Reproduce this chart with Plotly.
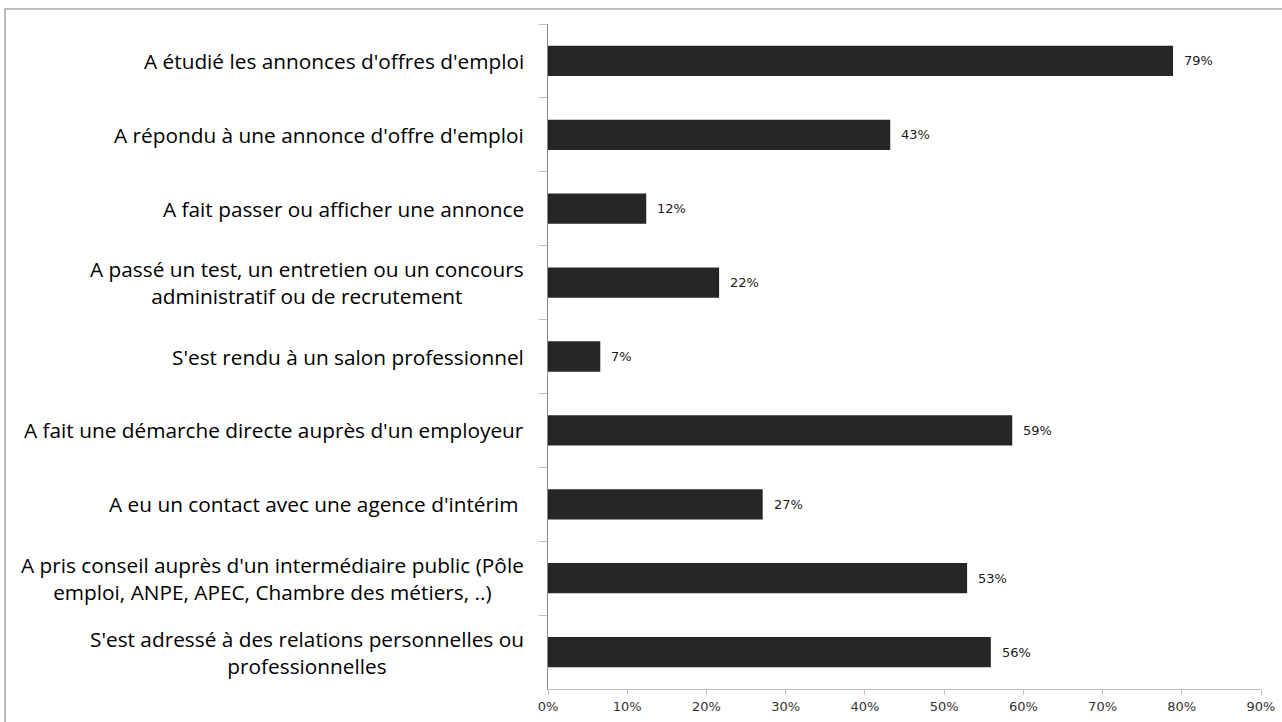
import plotly.graph_objects as go

categories = [
    "A étudié les annonces d'offres d'emploi",
    "A répondu à une annonce d'offre d'emploi",
    "A fait passer ou afficher une annonce",
    "A passé un test, un entretien ou un concours<br>administratif ou de recrutement",
    "S'est rendu à un salon professionnel",
    "A fait une démarche directe auprès d'un employeur",
    "A eu un contact avec une agence d'intérim ",
    "A pris conseil auprès d'un intermédiaire public (Pôle<br>emploi, ANPE, APEC, Chambre des métiers, ..)",
    "S'est adressé à des relations personnelles ou<br>professionnelles",
]
values = [78.9, 43.2, 12.4, 21.6, 6.6, 58.6, 27.1, 52.9, 55.9]
value_labels = ["79%", "43%", "12%", "22%", "7%", "59%", "27%", "53%", "56%"]
x_ticks = [0, 10, 20, 30, 40, 50, 60, 70, 80, 90]
x_tick_labels = ["0%", "10%", "20%", "30%", "40%", "50%", "60%", "70%", "80%", "90%"]

W, H = 1282, 722
ml, mr, mt, mb = 548, 21, 24, 33

fig = go.Figure()
fig.add_trace(go.Bar(
    y=categories,
    x=values,
    orientation="h",
    marker=dict(color="#262626", line=dict(width=0)),
    width=0.41,
    hoverinfo="skip",
))

annotations = []
for c, v, t in zip(categories, values, value_labels):
    annotations.append(dict(
        x=v, y=c, xref="x", yref="y", text=t, showarrow=False,
        xanchor="left", yanchor="middle", xshift=9,
        font=dict(family="DejaVu Sans", size=13, color="#1a1a1a"),
    ))
    annotations.append(dict(
        x=0, y=c, xref="paper", yref="y", text=c, showarrow=False,
        xanchor="right", yanchor="middle", xshift=-22, align="center",
        font=dict(family="Open Sans", size=20.8, color="#000000"),
    ))

pw = W - ml - mr
ph = H - mt - mb
fig.add_shape(
    type="rect", xref="paper", yref="paper",
    x0=(5 - ml) / pw, x1=(W + 20 - ml) / pw,
    y0=-(H + 20 - (H - mb)) / ph, y1=((H - mb) - 9) / ph,
    line=dict(color="#a6a6a6", width=1.5), fillcolor="rgba(0,0,0,0)",
    layer="below",
)

fig.update_layout(
    width=W, height=H, autosize=False,
    margin=dict(l=ml, r=mr, t=mt, b=mb, pad=0),
    paper_bgcolor="white", plot_bgcolor="white",
    showlegend=False,
    annotations=annotations,
    xaxis=dict(
        range=[0, 90], tickvals=x_ticks, ticktext=x_tick_labels,
        showgrid=False, zeroline=False, automargin=False,
        showline=True, linecolor="#bfbfbf", linewidth=1,
        ticks="outside", ticklen=5, tickcolor="#bfbfbf",
        tickfont=dict(family="DejaVu Sans", size=13, color="#333333"),
        fixedrange=True,
    ),
    yaxis=dict(
        categoryorder="array", categoryarray=categories,
        autorange="reversed", automargin=False,
        showticklabels=False, showgrid=False, zeroline=False,
        showline=True, linecolor="#868686", linewidth=1,
        ticks="outside", ticklen=8, tickcolor="#bfbfbf",
        tickson="boundaries",
        fixedrange=True,
    ),
)

fig.write_html(
    "out.html",
    config={"displayModeBar": False, "responsive": False},
    post_script="document.body.style.margin='0';document.body.style.overflow='hidden';",
)
